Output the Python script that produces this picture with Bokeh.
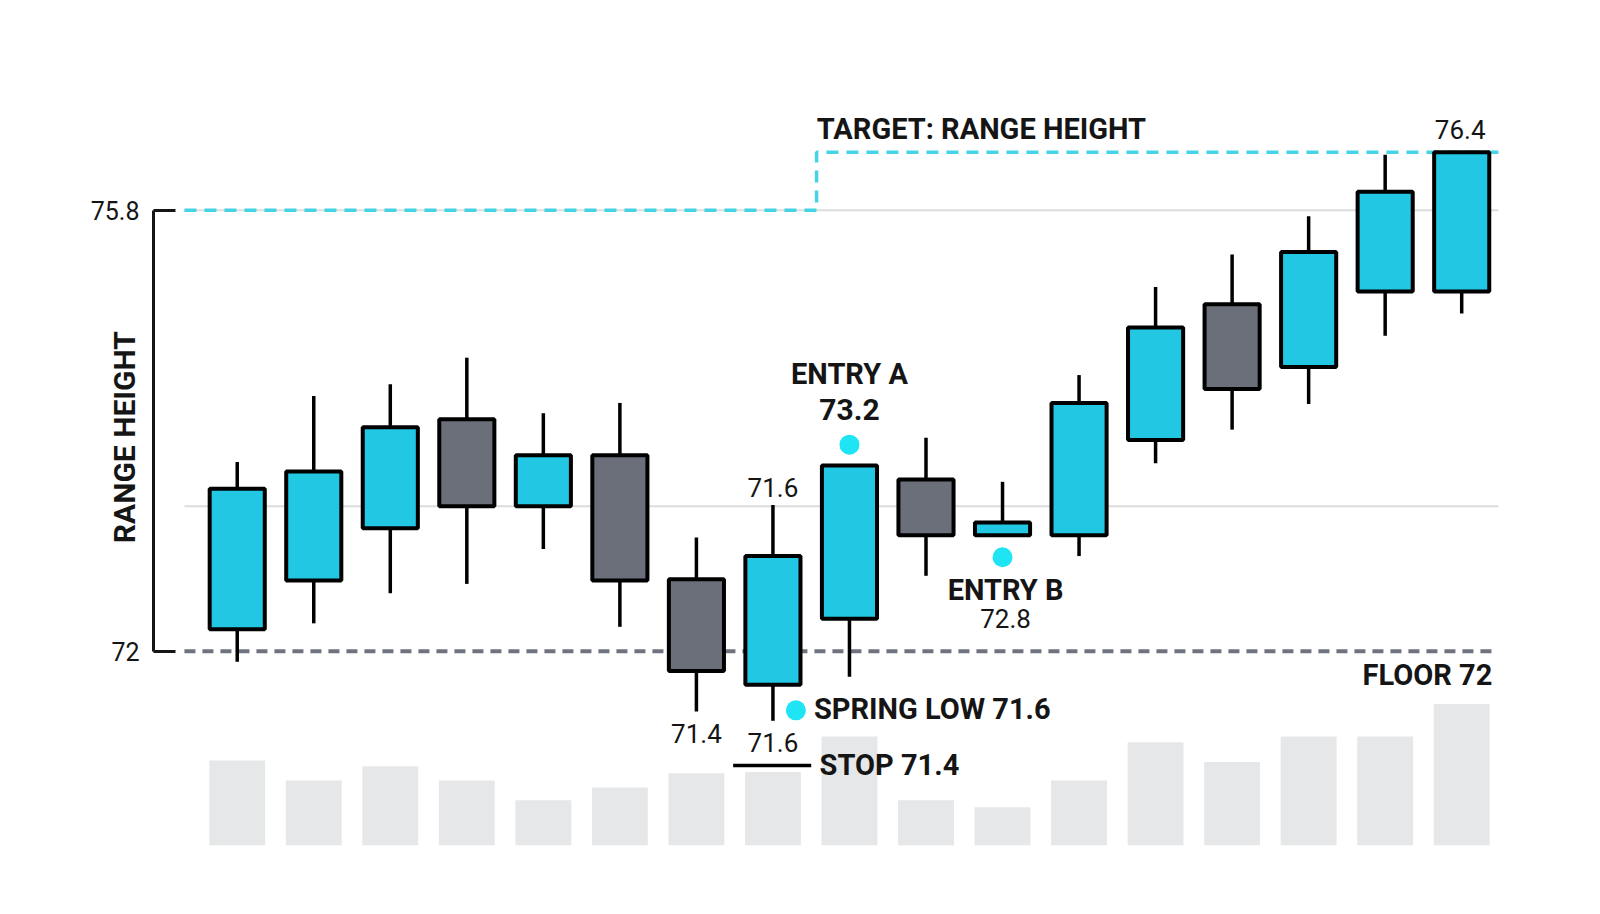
import numpy as np
from bokeh.plotting import figure
from bokeh.models import Range1d, FixedTicker, Label, LinearAxis
from bokeh.embed import file_html
from bokeh.resources import INLINE

# ---- data ----
idx = list(range(17))
opens  = [72.19, 72.61, 73.06, 74.00, 73.25, 73.69, 72.62, 71.71, 72.28, 73.48, 73.00, 73.00, 73.82, 74.99, 74.45, 75.10, 75.10]
closes = [73.40, 73.55, 73.93, 73.25, 73.69, 72.61, 71.83, 72.82, 73.60, 73.00, 73.11, 74.14, 74.79, 74.26, 75.44, 75.96, 76.30]
highs  = [73.63, 74.20, 74.30, 74.53, 74.05, 74.14, 72.98, 73.26, 73.60, 73.84, 73.46, 74.38, 75.14, 75.42, 75.75, 76.28, 76.30]
lows   = [71.91, 72.24, 72.50, 72.58, 72.88, 72.21, 71.48, 71.40, 71.78, 72.65, 73.00, 72.82, 73.62, 73.91, 74.13, 74.72, 74.91]
volumes = [60, 46, 56, 46, 32, 41, 51, 52, 77, 32, 27, 46, 73, 59, 77, 77, 100]

axis_ticks = [72, 75.8]
grid_levels = [73.25, 75.8]
floor_level = 72.0
range_top = 75.8
target_level = 76.3
target_switch = 7.57

entry_a = (8, 73.78)
entry_b = (10, 72.81)
spring = (7.30, 71.49)
stop_level = 71.015

CYAN = "#22c7e3"
GRAY = "#6a6f7a"
DOT = "#1ee4f3"
INK = "#151515"

up = [c >= o for o, c in zip(opens, closes)]
colors = [CYAN if u else GRAY for u in up]
tops = [max(o, c) for o, c in zip(opens, closes)]
bots = [min(o, c) for o, c in zip(opens, closes)]

p = figure(width=1584, height=890, output_backend="svg", toolbar_location=None,
           x_range=Range1d(-2.048, 16.507), y_range=Range1d(70.325, 76.747),
           min_border_left=80, min_border_right=84, min_border_top=100, min_border_bottom=45,
           background_fill_color="white", border_fill_color="white", y_axis_location=None)
p.outline_line_color = None
p.xaxis.visible = False
p.xgrid.visible = False
p.ygrid.visible = False
p.extra_y_ranges = {"vol": Range1d(0, 526.5)}

yax = LinearAxis(ticker=FixedTicker(ticks=axis_ticks), bounds=(axis_ticks[0], axis_ticks[-1]),
                 fixed_location=-1.094)
yax.major_tick_in = 22
yax.major_tick_out = 0
yax.minor_tick_in = 0
yax.minor_tick_out = 0
yax.axis_line_width = 3
yax.axis_line_color = INK
yax.major_tick_line_width = 3
yax.major_tick_line_color = INK
yax.major_label_standoff = 14
yax.major_label_text_font = "Roboto"
yax.major_label_text_font_size = "25px"
yax.major_label_text_color = INK
p.add_layout(yax, "left")

x0, x1 = -0.69, 16.48
# gridlines
p.segment(x0=[x0] * len(grid_levels), x1=[x1] * len(grid_levels), y0=grid_levels, y1=grid_levels,
          line_color="#dcdcdc", line_width=2)

# volume
p.vbar(x=idx, top=volumes, bottom=0, width=0.73, fill_color="#e6e7e9", line_color=None,
       y_range_name="vol")

# floor
p.line([x0, x1], [floor_level, floor_level], line_color="#6e737d", line_width=4, line_dash="11 7")
# target step line
p.line([x0, target_switch, target_switch, x1], [range_top, range_top, target_level, target_level],
       line_color="#45d4e6", line_width=3.5, line_dash="12 8")

# candles
p.segment(x0=idx, x1=idx, y0=lows, y1=highs, line_color="black", line_width=3.5)
p.vbar(x=idx, top=tops, bottom=bots, width=0.72, fill_color=colors, line_color="black", line_width=4)

# markers
p.scatter(x=[entry_a[0], entry_b[0], spring[0]], y=[entry_a[1], entry_b[1], spring[1]],
          size=20, fill_color=DOT, line_color=None)

# stop line
p.line([6.48, 7.50], [stop_level, stop_level], line_color="black", line_width=3.5)


def lab(x, y, text, size, bold=False, align="center", angle=0.0):
    p.add_layout(Label(x=x, y=y, text=text, text_font="Roboto", text_font_size=size,
                       text_font_style="bold" if bold else "normal", text_color=INK,
                       text_align=align, text_baseline="middle", angle=angle))


lab(7.574, 76.50, "TARGET: RANGE HEIGHT", "29px", bold=True, align="left")
lab(15.98, 76.50, "76.4", "26px")
lab(8.0, 74.39, "ENTRY A", "29px", bold=True)
lab(8.0, 74.08, "73.2", "30px", bold=True)
lab(7.0, 73.41, "71.6", "26px")
lab(10.04, 72.53, "ENTRY B", "29px", bold=True)
lab(10.04, 72.28, "72.8", "26px")
lab(6.0, 71.29, "71.4", "26px")
lab(7.0, 71.21, "71.6", "26px")
lab(7.535, 71.50, "SPRING LOW 71.6", "29px", bold=True, align="left")
lab(7.61, 71.015, "STOP 71.4", "29px", bold=True, align="left")
lab(16.40, 71.795, "FLOOR 72", "29px", bold=True, align="right")
lab(-1.479, 73.845, "RANGE HEIGHT", "30px", bold=True, angle=np.pi / 2)

open("out.html", "w").write(file_html(p, INLINE))
